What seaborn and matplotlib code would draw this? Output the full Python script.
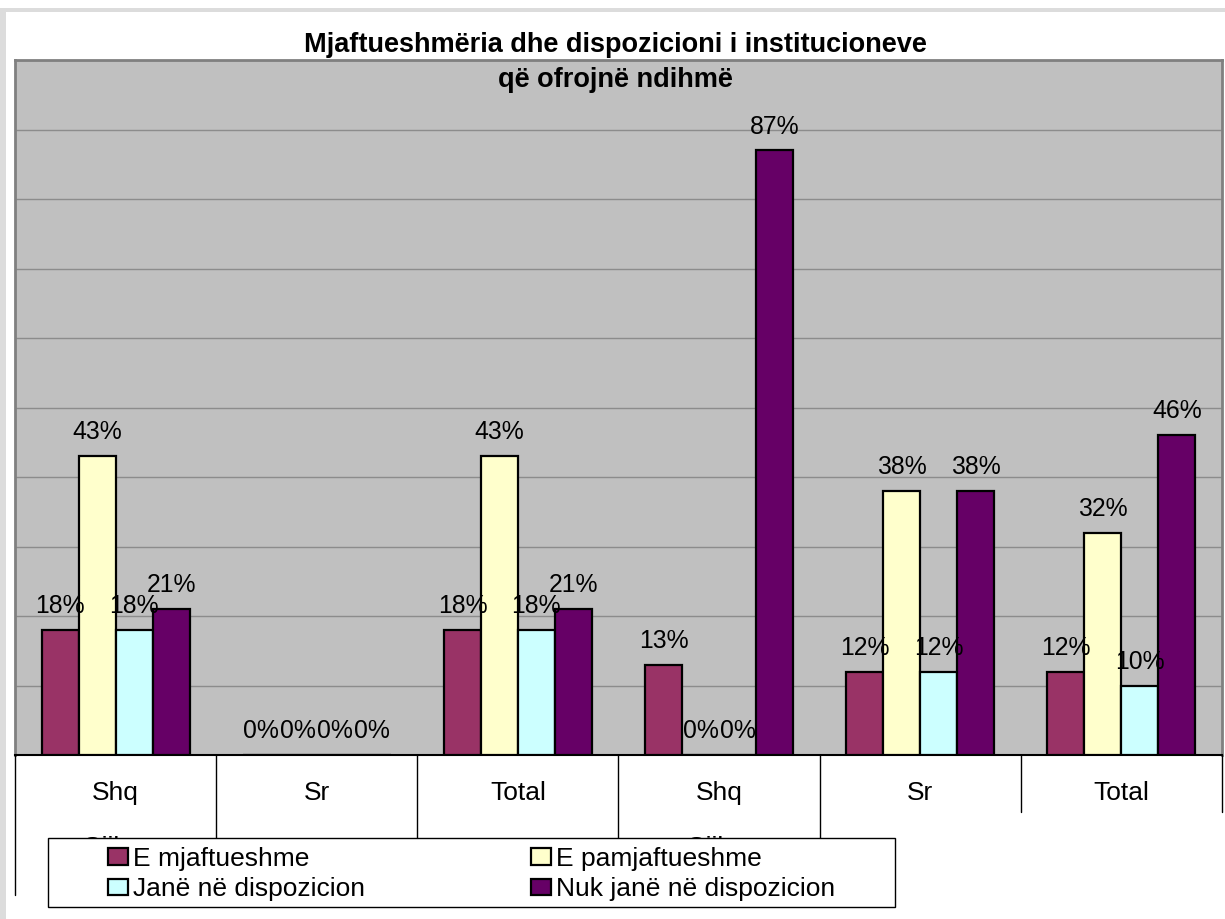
import pandas as pd
import matplotlib.pyplot as plt
from matplotlib.patches import Rectangle
from matplotlib.lines import Line2D
import seaborn as sns

# Chart values
categories = ["Shq", "Sr", "Total", "Shq", "Sr", "Total"]
groups = ["Gjilan", "Gjilan"]
series = ["E mjaftueshme", "E pamjaftueshme", "Janë në dispozicion", "Nuk janë në dispozicion"]
e_mjaftueshme = [18, 0, 18, 13, 12, 12]
e_pamjaftueshme = [43, 0, 43, 0, 38, 32]
ne_dispozicion = [18, 0, 18, 0, 12, 10]
nuk_ne_dispozicion = [21, 0, 21, 87, 38, 46]
colors = ["#993366", "#FFFFCC", "#CCFFFF", "#660066"]

keys = [f"c{i}" for i in range(len(categories))]
rows = []
for name, vals in zip(series, [e_mjaftueshme, e_pamjaftueshme, ne_dispozicion, nuk_ne_dispozicion]):
    for k, v in zip(keys, vals):
        rows.append({"cat": k, "series": name, "value": v})
df = pd.DataFrame(rows)

sns.set_style("white")
plt.rcParams["font.family"] = ["Liberation Sans", "DejaVu Sans"]
plt.rcParams["text.color"] = "black"

W, H = 1225, 919
fig = plt.figure(figsize=(W / 100, H / 100), dpi=100)


def fx(x):
    return x / W


def fy(y):
    return 1 - y / H


# plot area in pixels
L, R, T, B = 15, 1222, 60, 755
ax = fig.add_axes([fx(L), fy(B), fx(R) - fx(L), fy(T) - fy(B)])
ax.set_facecolor("#C0C0C0")

sns.barplot(data=df, x="cat", y="value", hue="series", order=keys, hue_order=series,
            palette=colors, width=0.735, gap=0, edgecolor="black", linewidth=1.6,
            saturation=1, legend=False, ax=ax, zorder=3)

ax.set_xlim(-0.5, len(keys) - 0.5)
ax.set_ylim(0, 100)
ax.set_yticks(range(0, 101, 10))
ax.yaxis.grid(True, color="#8C8C8C", linewidth=1)
ax.set_axisbelow(True)
ax.set_xticks([])
ax.set_yticklabels([])
ax.tick_params(left=False, bottom=False)
ax.set_xlabel("")
ax.set_ylabel("")
for side in ["top", "right", "left"]:
    ax.spines[side].set_color("#808080")
    ax.spines[side].set_linewidth(2)
ax.spines["bottom"].set_color("black")
ax.spines["bottom"].set_linewidth(1.5)

for cont, vals in zip(ax.containers, [e_mjaftueshme, e_pamjaftueshme, ne_dispozicion, nuk_ne_dispozicion]):
    ax.bar_label(cont, labels=[f"{v}%" for v in vals], padding=8.5, fontsize=17.8,
                 color="black", zorder=4)

# title
fig.text(fx(615), fy(45), "Mjaftueshmëria dhe dispozicioni i institucioneve",
         ha="center", va="center", fontsize=19.5, fontweight="bold")
fig.text(fx(615), fy(80), "që ofrojnë ndihmë",
         ha="center", va="center", fontsize=19.5, fontweight="bold")

# category table below the plot
cw = (R - L) / len(categories)
for i, c in enumerate(categories):
    fig.text(fx(L + cw * (i + 0.5)), fy(793), c, ha="center", va="center", fontsize=19)
for j, g in enumerate(groups):
    fig.text(fx(L + cw * (3 * j + 0.5)), fy(836.5), g, ha="center", va="top", fontsize=19, zorder=1)

sep_ends = [895, 838, 838, 838, 838, 812, 812]
for i, yend in enumerate(sep_ends):
    xp = L + cw * i
    fig.add_artist(Line2D([fx(xp), fx(xp)], [fy(B), fy(yend)], color="black", linewidth=1, zorder=2))

# legend box
fig.add_artist(Rectangle((fx(48), fy(907)), fx(895) - fx(48), fy(838) - fy(907),
                         facecolor="white", edgecolor="black", linewidth=1, zorder=5))
handles = [Rectangle((0, 0), 1, 1, facecolor=c, edgecolor="black", linewidth=1.6) for c in colors]
order = [0, 2, 1, 3]
leg = fig.legend([handles[i] for i in order], [series[i] for i in order], ncol=2,
                 loc="upper left", bbox_to_anchor=(fx(108), fy(847), fx(835) - fx(108), 0),
                 mode="expand", frameon=False, fontsize=19, borderpad=0, borderaxespad=0,
                 handlelength=0.75, handleheight=0.58, handletextpad=0.2, labelspacing=0.23,
                 columnspacing=1)
leg.set_zorder(6)

# page frame
fig.add_artist(Rectangle((0, fy(12)), 1, fy(8) - fy(12), facecolor="#DCDCDC", edgecolor="none"))
fig.add_artist(Rectangle((0, 0), fx(6), fy(8), facecolor="#DCDCDC", edgecolor="none"))

plt.savefig("out.png", dpi=100)
